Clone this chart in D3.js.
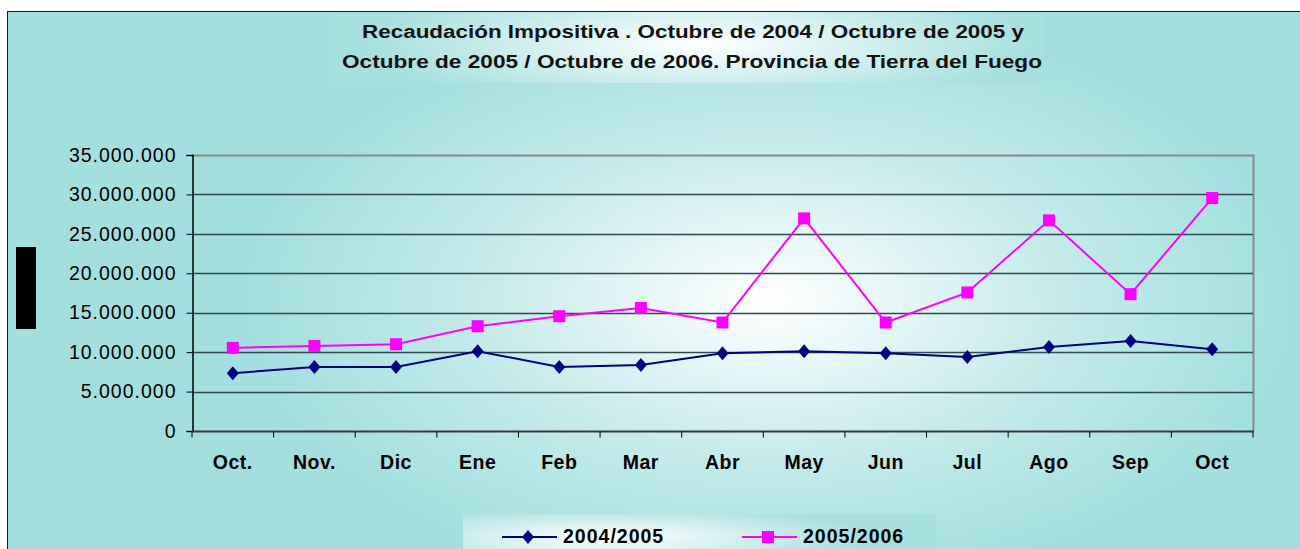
<!DOCTYPE html>
<html>
<head>
<meta charset="utf-8">
<script src="https://cdn.jsdelivr.net/npm/d3@7"></script>
<style>
  html, body { margin: 0; padding: 0; background: #fff; }
  svg { display: block; font-family: "Liberation Sans", Arial, sans-serif; }
</style>
</head>
<body>
<svg id="chart" width="1300" height="549"></svg>
<script>
// data
var months = ['Oct.', 'Nov.', 'Dic', 'Ene', 'Feb', 'Mar', 'Abr', 'May', 'Jun', 'Jul', 'Ago', 'Sep', 'Oct'];
var serie0405 = [7330000, 8120000, 8120000, 10120000, 8120000, 8380000, 9860000, 10120000, 9860000, 9390000, 10660000, 11400000, 10370000];
var serie0506 = [10540000, 10790000, 11000000, 13290000, 14560000, 15600000, 13760000, 26960000, 13760000, 17570000, 26710000, 17350000, 29540000];
var yTicks = [0, 5000000, 10000000, 15000000, 20000000, 25000000, 30000000, 35000000];
var seriesNames = ['2004/2005', '2005/2006'];
var titleLines = [
  'Recaudación Impositiva . Octubre de 2004 / Octubre de 2005 y',
  'Octubre de 2005 / Octubre de 2006. Provincia de Tierra del Fuego'
];

var svg = d3.select('#chart');
var defs = svg.append('defs');

//background gradient, white glow near the middle
var bg = defs.append('radialGradient')
  .attr('id', 'bgGrad')
  .attr('gradientUnits', 'userSpaceOnUse')
  .attr('cx', 770).attr('cy', 300).attr('r', 520)
  .attr('gradientTransform', 'translate(770,300) scale(1,0.55) translate(-770,-300)');
bg.append('stop').attr('offset', '0%').attr('stop-color', '#ffffff');
bg.append('stop').attr('offset', '55%').attr('stop-color', '#c6ebeb');
bg.append('stop').attr('offset', '100%').attr('stop-color', '#a4dfdf');

var tg = defs.append('radialGradient')
  .attr('id', 'titleGrad')
  .attr('gradientUnits', 'userSpaceOnUse')
  .attr('cx', 700).attr('cy', 44).attr('r', 330)
  .attr('gradientTransform', 'translate(700,44) scale(1,0.2) translate(-700,-44)');
tg.append('stop').attr('offset', '0%').attr('stop-color', '#ffffff');
tg.append('stop').attr('offset', '100%').attr('stop-color', '#a8e0e0');

var lg = defs.append('radialGradient')
  .attr('id', 'legGrad')
  .attr('gradientUnits', 'userSpaceOnUse')
  .attr('cx', 610).attr('cy', 537).attr('r', 260)
  .attr('gradientTransform', 'translate(610,537) scale(1,0.12) translate(-610,-537)');
lg.append('stop').attr('offset', '0%').attr('stop-color', '#ffffff');
lg.append('stop').attr('offset', '100%').attr('stop-color', '#a8e0e0');

//outer chart frame
svg.append('rect')
  .attr('x', 7.5).attr('y', 11.5)
  .attr('width', 1300).attr('height', 560)
  .attr('fill', 'url(#bgGrad)')
  .attr('stroke', '#1a1a1a').attr('stroke-width', 1);

//title box
svg.append('rect')
  .attr('x', 335).attr('y', 12)
  .attr('width', 708).attr('height', 71)
  .attr('fill', 'url(#titleGrad)');

//title, stretched like the original rendering
var titleSpots = [{x: 362, y: 38, len: 662}, {x: 342, y: 68, len: 700}];
svg.append('g')
  .selectAll('text')
  .data(titleLines)
  .enter()
  .append('text')
  .attr('x', function (d, i) { return titleSpots[i].x; })
  .attr('y', function (d, i) { return titleSpots[i].y; })
  .attr('textLength', function (d, i) { return titleSpots[i].len; })
  .attr('lengthAdjust', 'spacingAndGlyphs')
  .attr('font-weight', 'bold')
  .attr('font-size', 18)
  .attr('fill', '#111')
  .text(function (d) { return d; });

//redacted axis title block
svg.append('rect')
  .attr('x', 16).attr('y', 247)
  .attr('width', 20).attr('height', 82)
  .attr('fill', '#000');

var margin = {left: 192, top: 155, right: 1253, bottom: 431};

var x = d3.scaleBand()
  .domain(d3.range(months.length))
  .range([margin.left, margin.right])
  .padding(0);

var y = d3.scaleLinear()
  .domain([0, 35000000])
  .range([margin.bottom, margin.top]);

var esLocale = d3.formatLocale({decimal: ',', thousands: '.', grouping: [3], currency: ['$', '']});
var fmt = esLocale.format(',.0f');

//plot area border (gray top / right)
svg.append('path')
  .attr('d', 'M' + margin.left + ',' + (margin.top + 0.5) + 'H' + (margin.right + 0.5) + 'V' + margin.bottom)
  .attr('fill', 'none')
  .attr('stroke', '#8a8a8a')
  .attr('stroke-width', 2);

//gridlines
svg.append('g')
  .selectAll('line')
  .data(yTicks.filter(function (d) { return d > 0 && d < 35000000; }))
  .enter()
  .append('line')
  .attr('x1', margin.left).attr('x2', margin.right)
  .attr('y1', function (d) { return Math.round(y(d)) + 0.5; })
  .attr('y2', function (d) { return Math.round(y(d)) + 0.5; })
  .attr('stroke', '#2f4a4a')
  .attr('stroke-width', 1.4);

//y axis
var yAxis = svg.append('g')
  .attr('transform', 'translate(' + (margin.left + 0.5) + ',0)')
  .call(d3.axisLeft(y).tickValues(yTicks).tickFormat(fmt).tickSize(6).tickPadding(10));
yAxis.select('.domain').attr('stroke', '#000').attr('stroke-width', 1.5);
yAxis.selectAll('.tick line').attr('stroke', '#000');
yAxis.selectAll('.tick text')
  .attr('font-size', 19.5)
  .attr('letter-spacing', 1)
  .attr('font-family', '"Liberation Sans", Arial, sans-serif')
  .attr('fill', '#000');

//x axis
var xAxis = svg.append('g')
  .attr('transform', 'translate(0,' + (margin.bottom + 0.5) + ')');
xAxis.append('line')
  .attr('x1', margin.left).attr('x2', margin.right + 1)
  .attr('stroke', '#3a3a3a').attr('stroke-width', 2);
xAxis.selectAll('.xtick')
  .data(d3.range(months.length + 1))
  .enter()
  .append('line')
  .attr('class', 'xtick')
  .attr('x1', function (i) { return i < months.length ? x(i) : margin.right; })
  .attr('x2', function (i) { return i < months.length ? x(i) : margin.right; })
  .attr('y1', 0).attr('y2', 6)
  .attr('stroke', '#000');
xAxis.selectAll('.xlab')
  .data(months)
  .enter()
  .append('text')
  .attr('class', 'xlab')
  .attr('x', function (d, i) { return x(i) + x.bandwidth() / 2; })
  .attr('y', 37)
  .attr('text-anchor', 'middle')
  .attr('font-weight', 'bold')
  .attr('font-size', 19.5)
  .attr('letter-spacing', 0.5)
  .attr('fill', '#000')
  .text(function (d) { return d; });

var line = d3.line()
  .x(function (d, i) { return x(i) + x.bandwidth() / 2; })
  .y(function (d) { return y(d); });

//diamond marker, 12 wide by 14 tall
var diamondPath = 'M0,-7L6,0L0,7L-6,0Z';

//series 2004/2005
svg.append('path')
  .datum(serie0405)
  .attr('d', line)
  .attr('fill', 'none')
  .attr('stroke', '#000080')
  .attr('stroke-width', 2);
svg.append('g')
  .selectAll('path')
  .data(serie0405)
  .enter()
  .append('path')
  .attr('d', diamondPath)
  .attr('transform', function (d, i) { return 'translate(' + (x(i) + x.bandwidth() / 2) + ',' + y(d) + ')'; })
  .attr('fill', '#000080');

//series 2005/2006
svg.append('path')
  .datum(serie0506)
  .attr('d', line)
  .attr('fill', 'none')
  .attr('stroke', '#ff00ff')
  .attr('stroke-width', 2);
svg.append('g')
  .selectAll('rect')
  .data(serie0506)
  .enter()
  .append('rect')
  .attr('x', function (d, i) { return x(i) + x.bandwidth() / 2 - 6; })
  .attr('y', function (d) { return y(d) - 6; })
  .attr('width', 12).attr('height', 12)
  .attr('fill', '#ff00ff');

//legend
svg.append('rect')
  .attr('x', 463).attr('y', 514)
  .attr('width', 474).attr('height', 40)
  .attr('fill', 'url(#legGrad)');

var legend = svg.append('g');
legend.append('line')
  .attr('x1', 502).attr('x2', 557).attr('y1', 537).attr('y2', 537)
  .attr('stroke', '#000080').attr('stroke-width', 2);
legend.append('path')
  .attr('d', diamondPath)
  .attr('transform', 'translate(528,537)')
  .attr('fill', '#000080');
legend.append('text')
  .attr('x', 563).attr('y', 542.5)
  .attr('font-weight', 'bold').attr('font-size', 19.5)
  .attr('letter-spacing', 1)
  .text(seriesNames[0]);

legend.append('line')
  .attr('x1', 742).attr('x2', 797).attr('y1', 537).attr('y2', 537)
  .attr('stroke', '#ff00ff').attr('stroke-width', 2);
legend.append('rect')
  .attr('x', 762).attr('y', 531).attr('width', 12).attr('height', 12)
  .attr('fill', '#ff00ff');
legend.append('text')
  .attr('x', 803).attr('y', 542.5)
  .attr('font-weight', 'bold').attr('font-size', 19.5)
  .attr('letter-spacing', 1)
  .text(seriesNames[1]);
</script>
</body>
</html>
